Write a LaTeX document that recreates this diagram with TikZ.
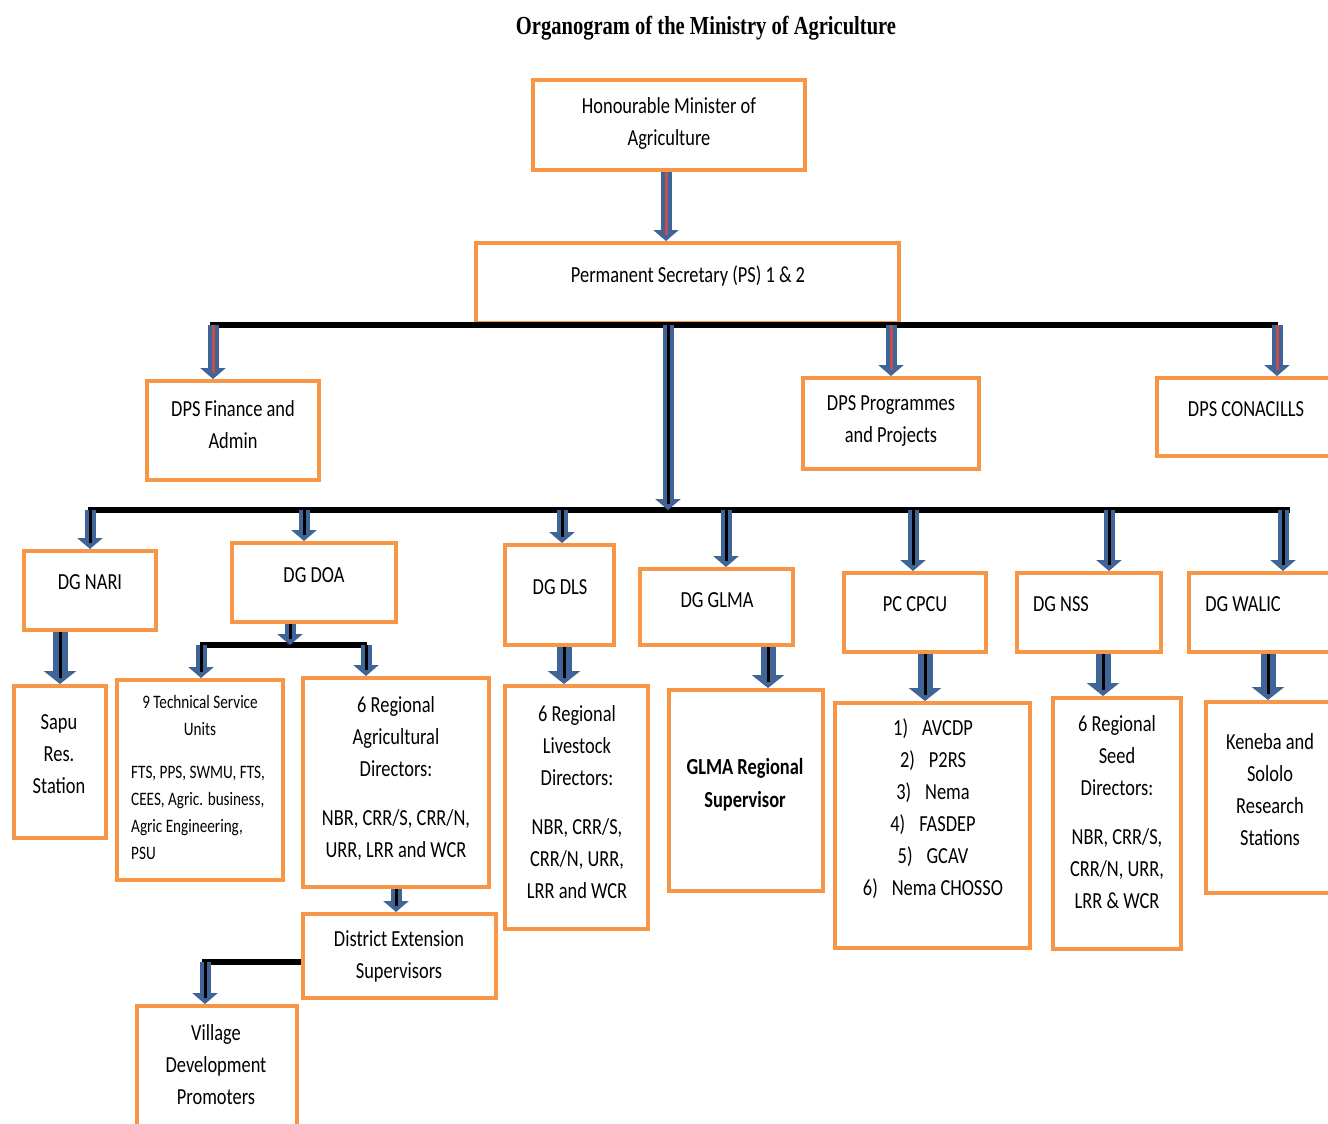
\documentclass[tikz,border=0pt]{standalone}
\usepackage{fontspec}
\setmainfont{Carlito}[FakeStretch=0.8]
\newfontfamily\titlefont{Liberation Serif}[FakeStretch=0.79]
\usetikzlibrary{arrows.meta}
\definecolor{orng}{RGB}{247,150,70}
\definecolor{ablue}{RGB}{62,100,152}
\definecolor{ared}{RGB}{192,80,77}
\tikzset{
  ob/.style={draw=orng, line width=4pt, fill=white, inner sep=0pt},
  tx/.style={align=center, font=\fontsize{23}{32}\selectfont, inner sep=0pt},
  sm/.style={align=left, font=\fontsize{19}{27}\selectfont, inner sep=0pt},
  arr/.style={draw=ablue, line width=11pt, -{Triangle[width=25pt,length=11pt]}},
  arrb/.style={draw=ablue, line width=15pt, -{Triangle[width=32pt,length=13pt]}},
  inn/.style={line width=3pt, shorten >=6pt},
  barline/.style={line width=6pt, black},
}
\newcommand\darrow[5][black]{%
  \coordinate (tmp) at (#2,0);
  \draw[#5] (#3 -| tmp) -- (#4 -| tmp);
  \draw[inn,#1] (#3 -| tmp) -- (#4 -| tmp);}
\begin{document}
\begin{tikzpicture}[x=1pt,y=-1pt]
\useasboundingbox (0,0) rectangle (1328,1124);
\clip (0,0) rectangle (1328,1124);
\fill[white] (0,0) rectangle (1328,1124);

% title
\node[inner sep=0pt, font=\titlefont\bfseries\fontsize{26}{30}\selectfont] (title) at (706,28) {Organogram of the Ministry of Agriculture};

% boxes
\node[ob, minimum width=272pt, minimum height=90pt] (minister) at (669,125) {};
\node[ob, minimum width=423pt, minimum height=80pt] (ps) at (687.5,283) {};
\node[ob, minimum width=172pt, minimum height=99pt] (dpsf) at (233,430.5) {};
\node[ob, minimum width=176pt, minimum height=91pt] (dpsp) at (891,423.5) {};
\node[ob, minimum width=182pt, minimum height=78pt] (dpsc) at (1248,417) {};
\node[ob, minimum width=132pt, minimum height=79pt] (nari) at (90,590.5) {};
\node[ob, minimum width=164pt, minimum height=79pt] (doa) at (314,582.5) {};
\node[ob, minimum width=109pt, minimum height=100pt] (dls) at (559.5,595) {};
\node[ob, minimum width=153pt, minimum height=76pt] (glma) at (716.5,607) {};
\node[ob, minimum width=142pt, minimum height=79pt] (cpcu) at (915,612.5) {};
\node[ob, minimum width=144pt, minimum height=79pt] (nss) at (1089,612.5) {};
\node[ob, minimum width=146pt, minimum height=79pt] (walic) at (1262,612.5) {};
\node[ob, minimum width=92pt, minimum height=152pt] (sapu) at (60,762) {};
\node[ob, minimum width=166pt, minimum height=200pt] (tsu) at (200,780) {};
\node[ob, minimum width=186pt, minimum height=209pt] (rad) at (396,782.5) {};
\node[ob, minimum width=193pt, minimum height=84pt] (des) at (399.5,956) {};
\node[ob, minimum width=160pt, minimum height=124pt] (vdp) at (217,1068) {};
\node[ob, minimum width=143pt, minimum height=243pt] (rld) at (576.5,807.5) {};
\node[ob, minimum width=154pt, minimum height=201pt] (glmar) at (746,790.5) {};
\node[ob, minimum width=195pt, minimum height=245pt] (cpcul) at (932.5,825.5) {};
\node[ob, minimum width=128pt, minimum height=251pt] (nssr) at (1117,823.5) {};
\node[ob, minimum width=129pt, minimum height=191pt] (keneba) at (1270,797.5) {};

% texts
\node[tx] (minister-t) at (669,123) {Honourable Minister of\\Agriculture};
\node[tx] (ps-t) at (688,276) {Permanent Secretary (PS) 1 \& 2};
\node[tx] (dpsf-t) at (233,424.5) {DPS Finance and\\Admin};
\node[tx] (dpsp-t) at (891,421.5) {DPS Programmes\\and Projects};
\node[tx] (dpsc-t) at (1246,409) {DPS CONACILLS};
\node[tx] (nari-t) at (90,582) {DG NARI};
\node[tx] (doa-t) at (314,575) {DG DOA};
\node[tx] (dls-t) at (560,587) {DG DLS};
\node[tx] (glma-t) at (717,600) {DG GLMA};
\node[tx] (cpcu-t) at (915,604) {PC CPCU};
\node[tx] (nss-t) at (1061,604) {DG NSS};
\node[tx] (walic-t) at (1243,604) {DG WALIC};
\node[tx] (sapu-t) at (59,754) {Sapu\\Res.\\Station};
\node[sm, align=center] (tsu-h) at (200,715.5) {9 Technical Service\\Units};
\node[sm, anchor=west] (tsu-b) at (131,813) {FTS, PPS, SWMU, FTS,\\CEES, Agric. business,\\Agric Engineering,\\PSU};
\node[tx] (rad-t) at (396,778.5) {6 Regional\\Agricultural\\Directors:\\[17pt]NBR, CRR/S, CRR/N,\\URR, LRR and WCR};
\node[tx] (des-t) at (399,956.5) {District Extension\\Supervisors};
\node[tx] (vdp-t) at (216,1065) {Village\\Development\\Promoters};
\node[tx] (rld-t) at (577,802.5) {6 Regional\\Livestock\\Directors:\\[17pt]NBR, CRR/S,\\CRR/N, URR,\\LRR and WCR};
\node[tx, font=\fontsize{23}{33}\selectfont\bfseries] (glmar-t) at (745,784.5) {GLMA Regional\\Supervisor};
\node[tx] (cpcul-t) at (933,809) {1)\hspace{14pt}AVCDP\\2)\hspace{14pt}P2RS\\3)\hspace{14pt}Nema\\4)\hspace{14pt}FASDEP\\5)\hspace{14pt}GCAV\\6)\hspace{14pt}Nema CHOSSO};
\node[tx] (nssr-t) at (1117,812.5) {6 Regional\\Seed\\Directors:\\[17pt]NBR, CRR/S,\\CRR/N, URR,\\LRR \& WCR};
\node[tx] (keneba-t) at (1270,789.5) {Keneba and\\Sololo\\Research\\Stations};

% bars
\coordinate (b1l) at (210,325); \coordinate (b1r) at (1278,325);
\coordinate (b2l) at (88,510);  \coordinate (b2r) at (1290,510);
\coordinate (b3l) at (200,645); \coordinate (b3r) at (367,645);
\coordinate (vj) at (202,962);
\draw[barline] (b1l) -- (b1r);
\draw[barline] (b2l) -- (b2r);
\draw[barline] (b3l) -- (b3r);
\draw[barline] (des.west |- vj) -- (vj);

% arrows
\darrow[ared]{666}{minister.south}{ps.north}{arr}
\darrow[ared]{213}{b1l}{dpsf.north}{arr}
\darrow[ared]{891}{b1l}{dpsp.north}{arr}
\darrow[ared]{1277}{b1l}{dpsc.north}{arr}
\darrow{668}{ps.south}{b2l}{arr}
\darrow{90}{b2l}{nari.north}{arr}
\darrow{304}{b2l}{doa.north}{arr}
\darrow{562}{b2l}{dls.north}{arr}
\darrow{726}{b2l}{glma.north}{arr}
\darrow{913}{b2l}{cpcu.north}{arr}
\darrow{1109}{b2l}{nss.north}{arr}
\darrow{1283}{b2l}{walic.north}{arr}
\darrow{60}{nari.south}{sapu.north}{arrb}
\darrow{290}{doa.south}{b3l}{arr}
\darrow{201}{b3l}{tsu.north}{arr}
\darrow{366}{b3l}{rad.north}{arr}
\darrow{396}{rad.south}{des.north}{arr}
\darrow{205}{vj}{vdp.north}{arr}
\darrow{564}{dls.south}{rld.north}{arrb}
\darrow{768}{glma.south}{glmar.north}{arrb}
\darrow{925}{cpcu.south}{cpcul.north}{arrb}
\darrow{1103}{nss.south}{nssr.north}{arrb}
\darrow{1268}{walic.south}{keneba.north}{arrb}
\end{tikzpicture}
\end{document}
